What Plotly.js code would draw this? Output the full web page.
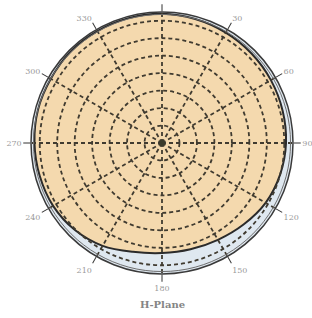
<!DOCTYPE html>
<html>
<head>
<meta charset="utf-8">
<script src="https://cdn.plot.ly/plotly-3.0.1.min.js"></script>
<style>html,body{margin:0;padding:0;background:#fff;}#chart{width:312px;height:318px;}</style>
</head>
<body>
<div id="chart"></div>
<script>
// H-plane radiation pattern (relative radius, outer ring = 7.5)
var patternTheta = [0, 15, 30, 45, 60, 75, 90, 105, 120, 135, 150, 165, 180, 195, 210, 225, 240, 255, 270, 285, 300, 315, 330, 345, 360];
var patternR     = [7.4, 7.35, 7.3, 7.25, 7.2, 7.15, 7.1, 7.0, 6.85, 6.6, 6.4, 6.3, 6.3, 6.45, 6.8, 7.05, 7.2, 7.25, 7.3, 7.35, 7.35, 7.4, 7.4, 7.4, 7.4];
// inner border ring of the chart frame
var ringTheta = [0, 15, 30, 45, 60, 75, 90, 105, 120, 135, 150, 165, 180, 195, 210, 225, 240, 255, 270, 285, 300, 315, 330, 345, 360];
var ringR     = [7.36, 7.36, 7.36, 7.36, 7.36, 7.36, 7.36, 7.36, 7.36, 7.36, 7.36, 7.36, 7.36, 7.36, 7.36, 7.36, 7.36, 7.36, 7.36, 7.36, 7.36, 7.36, 7.36, 7.36, 7.36];
var angleTicks = [0, 30, 60, 90, 120, 150, 180, 210, 240, 270, 300, 330];
var angleLabels = ['', '30', '60', '90', '120', '150', '180', '210', '240', '270', '300', '330'];
var radialTicks = [1, 2, 3, 4, 5, 6, 7];
var chartTitle = 'H-Plane';

var traces = [
  {
    type: 'scatterpolar', mode: 'lines', subplot: 'polar',
    r: patternR, theta: patternTheta,
    fill: 'toself', fillcolor: '#f4d9ae',
    line: {color: '#2b2b2b', width: 2, shape: 'spline'},
    hoverinfo: 'skip'
  },
  {
    type: 'scatterpolar', mode: 'lines', subplot: 'polar2',
    r: ringR, theta: ringTheta,
    line: {color: '#6f6f6f', width: 1, shape: 'spline'},
    hoverinfo: 'skip'
  },
  {
    type: 'scatterpolar', mode: 'markers', subplot: 'polar2',
    r: [0], theta: [0],
    marker: {color: '#3a3a2a', size: 6},
    hoverinfo: 'skip'
  }
];

var gridStyle = {gridcolor: '#403b30', griddash: '4px,3px', gridwidth: 1.8};

var layout = {
  width: 312, height: 318,
  margin: {l: 31, r: 19, t: 12, b: 44},
  paper_bgcolor: '#ffffff',
  showlegend: false,
  polar: {
    bgcolor: '#dfe8f0',
    domain: {x: [0, 1], y: [0, 1]},
    radialaxis: {range: [0, 7.5], visible: false, showgrid: false},
    angularaxis: {
      rotation: 90, direction: 'clockwise',
      tickvals: angleTicks, showticklabels: false, ticks: '',
      showline: false, showgrid: false
    }
  },
  polar2: {
    bgcolor: 'rgba(0,0,0,0)',
    domain: {x: [0, 1], y: [0, 1]},
    radialaxis: Object.assign({
      range: [0, 7.5], tickvals: radialTicks, showticklabels: false,
      ticks: '', showline: false
    }, gridStyle),
    angularaxis: Object.assign({
      rotation: 90, direction: 'clockwise',
      tickvals: angleTicks, ticktext: angleLabels,
      ticks: 'outside', ticklen: 7, tickcolor: '#333', tickwidth: 1,
      showline: true, linecolor: '#3a3a3a', linewidth: 1.5,
      tickfont: {family: 'DejaVu Serif', size: 8, color: '#9a9a9a'}
    }, gridStyle)
  },
  annotations: [{
    text: '<b>' + chartTitle + '</b>', xref: 'paper', yref: 'paper', x: 0.5, y: -0.118,
    xanchor: 'center', yanchor: 'middle', showarrow: false,
    font: {family: 'DejaVu Serif', size: 10, color: '#858585'}
  }]
};

Plotly.newPlot('chart', traces, layout, {staticPlot: true, displayModeBar: false});
</script>
</body>
</html>
